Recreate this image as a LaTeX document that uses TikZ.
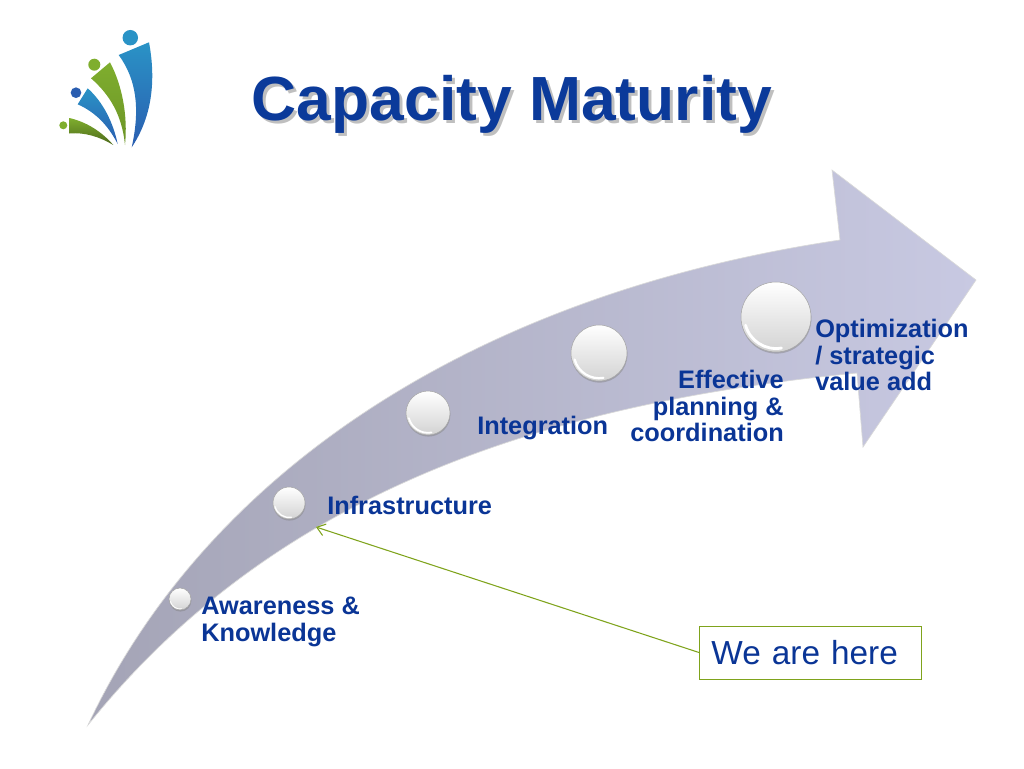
\documentclass[tikz,border=0pt]{standalone}
\usepackage{fontspec}
\setmainfont{Liberation Sans}
\usetikzlibrary{shadows, arrows.meta}

\definecolor{titleblue}{HTML}{0B3A9A}
\definecolor{labelblue}{HTML}{0A3596}
\definecolor{hereline}{HTML}{7FA31C}
\definecolor{logoblue}{HTML}{2A93C6}
\definecolor{logodeep}{HTML}{2A5DB0}
\definecolor{logogreen}{HTML}{7FAE2E}
\definecolor{arrowtail}{HTML}{A4A4B6}
\definecolor{arrowhead}{HTML}{C8C9E2}

\tikzset{
    stagelabel/.style={text=labelblue, inner sep=0pt, font=\bfseries\fontsize{19}{20}\selectfont},
    stageball/.style={circle, minimum size=#1, inner sep=0pt, draw=gray!70, line width=0.4pt,
        top color=white, bottom color=gray!35,
        drop shadow={shadow xshift=0.3pt, shadow yshift=-1.2pt, opacity=0.45},
        path picture={
            \draw[white, line width=#1*0.04, line cap=round]
                (path picture bounding box.center) ++(195:#1*0.45)
                arc[start angle=195, end angle=280, radius=#1*0.45];
        }},
    logoleaf/.style={draw=none, shading=axis, shading angle=0}
}

\begin{document}
\begin{tikzpicture}[x=0.75pt, y=-0.75pt]
    \useasboundingbox (0, 0) rectangle (1024, 768);

    % logo
    \shade[logoleaf, top color=logoblue, bottom color=logodeep] (118.7, 55) -- (149, 42.3)
        .. controls (157, 85) and (150, 120) .. (131.7, 147.3)
        .. controls (140, 110) and (137, 80) .. cycle;
    \shade[logoleaf, top color=logogreen, bottom color=logogreen!85!black] (91, 78.3) -- (110, 62.3)
        .. controls (122, 85) and (128, 115) .. (125, 145)
        .. controls (122, 115) and (110, 95) .. cycle;
    \shade[logoleaf, top color=logoblue, bottom color=logodeep] (77.7, 104.3) -- (87.7, 88.3)
        .. controls (103, 102) and (113, 122) .. (117.7, 144)
        .. controls (108, 125) and (95, 112) .. cycle;
    \shade[logoleaf, top color=logogreen, bottom color=logogreen!60!black] (69.3, 118) -- (69.3, 133.5)
        .. controls (85, 132) and (100, 137) .. (113.3, 145)
        .. controls (102, 132) and (87, 122) .. cycle;
    \fill[logoblue] (130.3, 37.7) circle[radius=5.8pt];
    \fill[logogreen] (94.3, 64.7) circle[radius=4.5pt];
    \fill[logodeep] (76, 92.7) circle[radius=4pt];
    \fill[logogreen] (63.3, 125.3) circle[radius=3pt];

    % title
    \node[text=gray!50, font=\bfseries\fontsize{46.8}{50}\selectfont] (titleshadow) at (515, 107) {Capacity Maturity};
    \node[text=titleblue, font=\bfseries\fontsize{46.8}{50}\selectfont] (title) at (512, 104) {Capacity Maturity};

    % big arrow
    \shade[left color=arrowtail, right color=arrowhead,
           draw=white!70!gray, line width=0.5pt]
        (88, 725) .. controls (205, 475) and (470, 295) .. (840, 240)
        -- (832, 170) -- (976, 280) -- (863, 447) -- (857, 373)
        .. controls (560, 402) and (280, 485) .. cycle;

    % stages
    \node[stageball=16.5pt] (ballone) at (180, 599) {};
    \node[stageball=24pt] (balltwo) at (289, 503) {};
    \node[stageball=33pt] (ballthree) at (428, 413) {};
    \node[stageball=42pt] (ballfour) at (599, 353) {};
    \node[stageball=52.5pt] (ballfive) at (776, 317) {};

    \node[stagelabel, anchor=west, align=left] (awareness) at (201, 622) {Awareness \&\\Knowledge};
    \node[stagelabel, anchor=west] (infra) at (327, 505) {Infrastructure};
    \node[stagelabel, anchor=west] (integration) at (477, 428) {Integration};
    \node[stagelabel, anchor=east, align=right] (effective) at (784, 406) {Effective\\planning \&\\coordination};
    \node[stagelabel, anchor=west, align=left] (optimization) at (815, 355) {Optimization\\/ strategic\\value add};

    % we are here
    \node[draw=hereline, line width=0.6pt, anchor=west, minimum height=39.75pt,
          text width=148.5pt, align=left, inner xsep=9pt, inner ysep=0pt, text=labelblue,
          font=\fontsize{25}{28}\selectfont] (here) at (699, 652.5) {We are here};
    \coordinate (herepoint) at (316, 527);
    \draw[-{Straight Barb[length=6pt, width=9pt]}, hereline, line width=0.8pt] (here.west) -- (herepoint);
\end{tikzpicture}
\end{document}
